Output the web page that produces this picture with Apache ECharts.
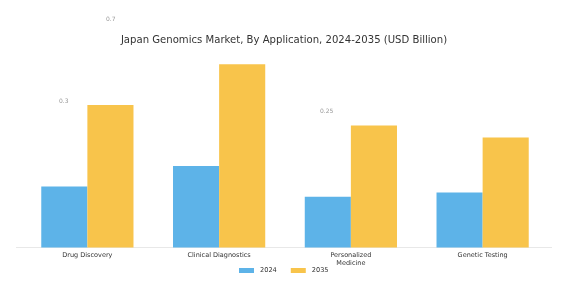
<!DOCTYPE html>
<html><head><meta charset="utf-8">
<script src="https://cdn.jsdelivr.net/npm/echarts@6/dist/echarts.min.js"></script>
<style>html,body{margin:0;padding:0;background:#fff}#c{width:562px;height:294px}</style>
</head><body><div id="c"></div>
<script>
const categories = ['Drug Discovery', 'Clinical Diagnostics', 'Personalized\nMedicine', 'Genetic Testing'];
const seriesNames = ['2024', '2035'];
const values2024 = [0.30, 0.40, 0.25, 0.27];
const values2035 = [0.70, 0.90, 0.60, 0.54];
const strayLabels = ['0.7', '0.3', '0.25'];

const chart = echarts.init(document.getElementById('c'));
chart.setOption({
  animation: false,
  backgroundColor: '#fff',
  title: {
    text: 'Japan Genomics Market, By Application, 2024-2035 (USD Billion)',
    left: 279, textAlign: 'center', top: 30,
    textStyle: {fontFamily: 'DejaVu Sans', fontSize: 10.1, fontWeight: 'normal', color: '#333'}
  },
  legend: {
    data: seriesNames, top: 262, left: 234, itemWidth: 15, itemHeight: 5, itemGap: 14,
    icon: 'rect',
    textStyle: {fontFamily: 'DejaVu Sans', fontSize: 6.6, color: '#333', padding: [0, 0, 0, 1]}
  },
  grid: {left: 21.5, right: 13.5, top: 44, bottom: 46.5},
  xAxis: {
    type: 'category', data: categories,
    axisLine: {lineStyle: {color: '#e8e8e8', width: 1}},
    axisTick: {alignWithLabel: true, length: 3, lineStyle: {color: '#999'}},
    axisLabel: {fontFamily: 'DejaVu Sans', fontSize: 6.5, color: '#333', margin: 4, lineHeight: 8, interval: 0}
  },
  yAxis: {type: 'value', min: 0, max: 1, show: false, splitLine: {show: false}},
  series: [
    {name: '2024', type: 'bar', data: values2024, barGap: '0%', barCategoryGap: '30%', itemStyle: {color: '#5DB3E8'}},
    {name: '2035', type: 'bar', data: values2035, itemStyle: {color: '#F8C44B'}}
  ],
  graphic: [
    {type: 'line', z: -1, shape: {x1: 16, y1: 247.5, x2: 552, y2: 247.5}, style: {stroke: '#e8e8e8', lineWidth: 1}},
    {type: 'text', left: 106, top: 16, style: {text: strayLabels[0], fontSize: 6, fill: '#999', fontFamily: 'DejaVu Sans'}},
    {type: 'text', left: 59, top: 98, style: {text: strayLabels[1], fontSize: 6, fill: '#999', fontFamily: 'DejaVu Sans'}},
    {type: 'text', left: 320, top: 108, style: {text: strayLabels[2], fontSize: 6, fill: '#999', fontFamily: 'DejaVu Sans'}}
  ]
});
</script></body></html>
